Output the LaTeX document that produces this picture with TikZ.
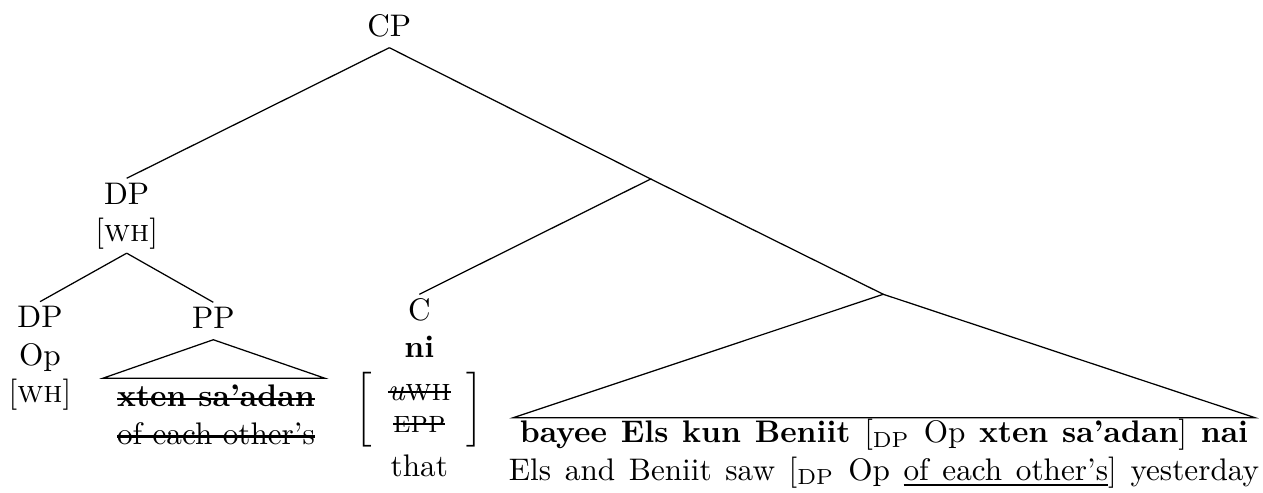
\documentclass[tikz,border=0pt]{standalone}
\newsavebox{\strkbox}
\newcommand{\strk}[1]{\sbox{\strkbox}{#1}\rlap{\rule[.5ex]{\wd\strkbox}{.75pt}}\usebox{\strkbox}}
\newcommand{\undl}[1]{\sbox{\strkbox}{#1}\rlap{\rule[-2pt]{\wd\strkbox}{.7pt}}\usebox{\strkbox}}
\begin{document}
\begin{tikzpicture}[x=0.3205pt, y=-0.3205pt,
					lbl/.style={inner sep=0pt, outer sep=0pt, align=center}]
					% Bildbereich
					\useasboundingbox (0,0) rectangle (1263,493);
					% Knoten setzen
					\node[lbl, anchor=south] (cp) at (389.3,47.7) {\strut CP};
					\node[lbl, anchor=north] (dpwh) at (126.7,178.3) {\strut DP\\\strut[\textsc{wh}]};
					\node[lbl, anchor=north] (dpop) at (40,301.7) {\strut DP\\\strut Op\\\strut[\textsc{wh}]};
					\node[lbl, anchor=north] (pp) at (213.3,302.3) {\strut PP};
					\node[lbl, anchor=north] (ppt) at (216,380.6) {\strut\textbf{\strk{xten sa'adan}}\\\strut\strk{of each other's}};
					\node[lbl, anchor=north] (c) at (419.3,294.3) {\strut C\\\strut\textbf{ni}\\{\renewcommand{\arraystretch}{.85}$\left[\begin{array}{c}\mbox{\strk{\textit{u}\textsc{wh}}}\\\mbox{\strk{\textsc{epp}}}\end{array}\right]$}\\\strut that};
					\node[lbl, anchor=north, font={\spaceskip=.44em}] (tpt) at (884,416.5) {\strut\textbf{bayee Els kun Beniit} [\textsubscript{DP} Op \textbf{xten sa'adan}] \textbf{nai}\\\strut Els and Beniit saw [\textsubscript{DP} Op \undl{of each other's}] yesterday};
					% leere Knoten
					\coordinate (cbar) at (650.7,179);
					\coordinate (tp) at (883.3,294.3);
					\coordinate (ppl) at (102.7,378.3);
					\coordinate (ppr) at (325,378.3);
					\coordinate (tpl) at (513.3,417.7);
					\coordinate (tpr) at (1255,417.7);
					% Kanten zeichnen
					\draw (cp.south) -- (dpwh.north);
					\draw (cp.south) -- (cbar) -- (c.north);
					\draw (cbar) -- (tp);
					\draw (dpwh.south) -- (dpop.north);
					\draw (dpwh.south) -- (pp.north);
					% Dreiecke
					\draw (pp.south) -- (ppl) -- (ppr) -- cycle;
					\draw (tp) -- (tpl) -- (tpr) -- cycle;
				\end{tikzpicture}
\end{document}
